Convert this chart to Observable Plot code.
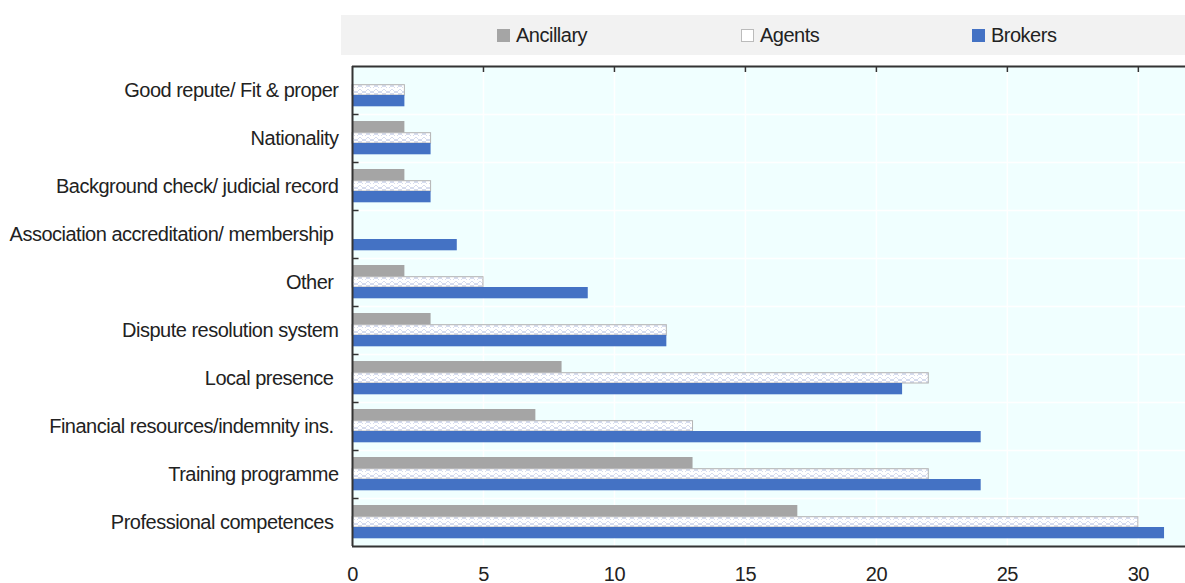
<!DOCTYPE html>
<html><head><meta charset="utf-8">
<script src="https://cdn.jsdelivr.net/npm/d3@7"></script>
<script src="https://cdn.jsdelivr.net/npm/@observablehq/plot@0.6"></script>
<style>
body{margin:0;background:#fff;font-family:"Liberation Sans",Arial,sans-serif;}
#wrap{position:relative;width:1185px;height:583px;}
#legend{position:absolute;left:341px;top:15px;width:844px;height:40px;background:#F2F2F2;}
.item{position:absolute;top:0;height:40px;display:flex;align-items:center;font-size:20px;letter-spacing:-0.5px;color:#222;}
.sw{width:13px;height:13px;margin-right:6px;box-sizing:border-box;}
#chart{position:absolute;left:0;top:0;}
#chart svg text{letter-spacing:-0.5px;white-space:pre;}
</style></head>
<body>
<div id="wrap">
  <div id="chart"></div>
  <div id="legend"></div>
</div>
<script>
const categories = [
  "Good repute/ Fit & proper",
  "Nationality",
  "Background check/ judicial record",
  "Association accreditation/ membership ",
  "Other ",
  "Dispute resolution system",
  "Local presence ",
  "Financial resources/indemnity ins. ",
  "Training programme",
  "Professional competences "
];
const ancillary = [0, 2, 2, 0, 2, 3, 8, 7, 13, 17];
const agents    = [2, 3, 3, 0, 5, 12, 22, 13, 22, 30];
const brokers   = [2, 3, 3, 4, 9, 12, 21, 24, 24, 31];
const xTicks = [0, 5, 10, 15, 20, 25, 30];
const seriesNames = ["Ancillary", "Agents", "Brokers"];

const rows = categories.map((c, i) => ({category: c, ancillary: ancillary[i], agents: agents[i], brokers: brokers[i]}));
const FONT = '"Liberation Sans",Arial,sans-serif';
const AX = "#333";

const chart = Plot.plot({
  width: 1185, height: 583,
  marginTop: 66, marginBottom: 37, marginLeft: 352, marginRight: 0,
  style: {fontFamily: FONT, fontSize: "20px", color: "#222", background: "transparent", overflow: "visible"},
  x: {domain: [0, 31.8]},
  y: {domain: categories, padding: 0},
  marks: [
    Plot.frame({fill: "#F0FFFF", stroke: null}),
    Plot.ruleX(xTicks.slice(1), {stroke: "white", strokeWidth: 1.5}),
    Plot.ruleY(categories.slice(1), {stroke: "white", strokeWidth: 1.5, dy: -24}),
    Plot.barX(rows.filter(d => d.ancillary > 0), {y: "category", x: "ancillary", fill: "#A5A5A5", insetTop: 7, insetBottom: 29.3}),
    Plot.barX(rows.filter(d => d.agents > 0), {y: "category", x: "agents", fill: "url(#agentsHatch)", stroke: "#B4B4B4", strokeWidth: 1, insetTop: 18.7, insetBottom: 19}),
    Plot.barX(rows.filter(d => d.brokers > 0), {y: "category", x: "brokers", fill: "#4472C4", insetTop: 29, insetBottom: 7.7}),
    Plot.ruleY(categories.slice(1), {x1: 0, x2: 0.25, stroke: AX, strokeWidth: 1.5, dy: -24}),
    Plot.tickX(xTicks.slice(1), {y: () => categories[0], stroke: AX, strokeWidth: 1.5, insetBottom: 42}),
    Plot.ruleY([categories[0]], {stroke: AX, strokeWidth: 2, dy: -24}),
    Plot.ruleY([categories[categories.length - 1]], {stroke: AX, strokeWidth: 2, dy: 24}),
    Plot.ruleX([0], {stroke: AX, strokeWidth: 2}),
    Plot.axisY({tickSize: 0, tickPadding: 14, label: null}),
    Plot.axisX({ticks: xTicks, tickSize: 0, tickPadding: 20, label: null})
  ]
});

const svg = d3.select(chart);
const defs = svg.insert("defs", ":first-child");
const p = defs.append("pattern").attr("id", "agentsHatch").attr("patternUnits", "userSpaceOnUse").attr("width", 8).attr("height", 8);
p.append("rect").attr("width", 8).attr("height", 8).attr("fill", "white");
p.append("path").attr("d", "M0,1 L4,5 L8,1 M0,5 L4,9 M4,9 L8,5 M0,7 L4,3 L8,7").attr("stroke", "#D6DCEE").attr("stroke-width", 1).attr("fill", "none");
document.getElementById("chart").appendChild(chart);

// legend
const legendColors = {Ancillary: ["#A5A5A5", "#A5A5A5"], Agents: ["#FFFFFF", "#BBBBBB"], Brokers: ["#4472C4", "#4472C4"]};
const legendLeft = [156, 400, 631];
const legend = document.getElementById("legend");
seriesNames.forEach((name, i) => {
  const it = document.createElement("div");
  it.className = "item";
  it.style.left = legendLeft[i] + "px";
  const sw = document.createElement("div");
  sw.className = "sw";
  sw.style.background = legendColors[name][0];
  sw.style.border = "1px solid " + legendColors[name][1];
  const tx = document.createElement("span");
  tx.textContent = name;
  it.appendChild(sw); it.appendChild(tx);
  legend.appendChild(it);
});
</script>
</body></html>
